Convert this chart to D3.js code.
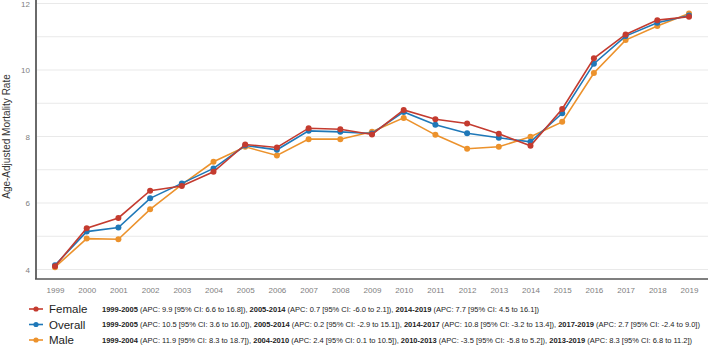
<!DOCTYPE html>
<html>
<head>
<meta charset="utf-8">
<script src="https://cdn.jsdelivr.net/npm/d3@7"></script>
<style>
  html, body { margin: 0; padding: 0; background: #fff; }
  svg { display: block; font-family: "Liberation Sans", Arial, sans-serif; }
</style>
</head>
<body>
<svg id="chart" width="709" height="347"></svg>
<script>
const years = [1999,2000,2001,2002,2003,2004,2005,2006,2007,2008,2009,2010,2011,2012,2013,2014,2015,2016,2017,2018,2019];
const female  = [4.10,5.24,5.55,6.37,6.51,6.94,7.76,7.67,8.25,8.22,8.06,8.80,8.52,8.39,8.08,7.72,8.83,10.35,11.07,11.50,11.60];
const overall = [4.13,5.14,5.26,6.14,6.59,7.04,7.73,7.60,8.17,8.14,8.09,8.74,8.35,8.10,7.96,7.84,8.70,10.19,11.02,11.42,11.64];
const male    = [4.07,4.93,4.91,5.81,6.55,7.24,7.69,7.43,7.92,7.92,8.14,8.56,8.05,7.63,7.69,7.99,8.44,9.91,10.90,11.32,11.70];
const yTicks = [4,6,8,10,12];
const gridTicks = [4,5,6,7,8,9,10,11,12];
const seriesNames = ["Female","Overall","Male"];
const seriesColors = ["#c43b2f","#1f78b8","#ec922c"];
const seriesNotes = [
  [["1999-2005"," (APC: 9.9 [95% CI: 6.6 to 16.8]), "],["2005-2014"," (APC: 0.7 [95% CI: -6.0 to 2.1]), "],["2014-2019"," (APC: 7.7 [95% CI: 4.5 to 16.1])"]],
  [["1999-2005"," (APC: 10.5 [95% CI: 3.6 to 16.0]), "],["2005-2014"," (APC: 0.2 [95% CI: -2.9 to 15.1]), "],["2014-2017"," (APC: 10.8 [95% CI: -3.2 to 13.4]), "],["2017-2019"," (APC: 2.7 [95% CI: -2.4 to 9.0])"]],
  [["1999-2004"," (APC: 11.9 [95% CI: 8.3 to 18.7]), "],["2004-2010"," (APC: 2.4 [95% CI: 0.1 to 10.5]), "],["2010-2013"," (APC: -3.5 [95% CI: -5.8 to 5.2]), "],["2013-2019"," (APC: 8.3 [95% CI: 6.8 to 11.2])"]]
];
const seriesValues = [female, overall, male];

const svg = d3.select("#chart");
const plotLeft = 36, plotRight = 708, plotTop = 0, plotBottom = 279;

const x = d3.scaleLinear().domain([1999, 2019]).range([55, 689]);
const y = d3.scaleLinear().domain([4, 12]).range([269.5, 3.5]);

// gridlines
svg.append("g").selectAll("line").data(gridTicks).join("line")
  .attr("x1", plotLeft).attr("x2", plotRight)
  .attr("y1", d => y(d)).attr("y2", d => y(d))
  .attr("stroke", "#e9e9e9").attr("stroke-width", 1);

// y axis
const yAxis = svg.append("g").attr("transform", `translate(${plotLeft},0)`)
  .call(d3.axisLeft(y).tickValues(yTicks).tickSize(0).tickPadding(6).tickFormat(d3.format("d")));
yAxis.select(".domain").remove();
yAxis.selectAll("text").attr("fill", "#808080").attr("font-size", 8).attr("font-family", "Liberation Sans, Arial, sans-serif");

svg.append("line").attr("x1", plotLeft).attr("x2", plotLeft).attr("y1", plotTop).attr("y2", plotBottom)
  .attr("stroke", "#6a6a6a").attr("stroke-width", 2);

// x axis
const xAxis = svg.append("g").attr("transform", `translate(0,${plotBottom})`)
  .call(d3.axisBottom(x).tickValues(years).tickSize(0).tickPadding(8).tickFormat(d3.format("d")));
xAxis.select(".domain").remove();
xAxis.selectAll("text").attr("fill", "#808080").attr("font-size", 8).attr("font-family", "Liberation Sans, Arial, sans-serif");
svg.append("line").attr("x1", plotLeft - 1).attr("x2", plotRight).attr("y1", plotBottom).attr("y2", plotBottom)
  .attr("stroke", "#555").attr("stroke-width", 1.5);

// y title
svg.append("text")
  .attr("transform", `translate(10,${(y(4)+y(12))/2}) rotate(-90)`)
  .attr("text-anchor", "middle")
  .attr("font-size", 10).attr("fill", "#333")
  .text("Age-Adjusted Mortality Rate");

const line = d3.line().x((d, i) => x(years[i])).y(d => y(d));
const order = [2, 1, 0];
order.forEach(si => {
  const g = svg.append("g");
  g.append("path").datum(seriesValues[si])
    .attr("fill", "none").attr("stroke", seriesColors[si]).attr("stroke-width", 1.6)
    .attr("d", line);
  g.selectAll("circle").data(seriesValues[si]).join("circle")
    .attr("cx", (d, i) => x(years[i])).attr("cy", d => y(d)).attr("r", 3)
    .attr("fill", seriesColors[si]);
});

// legend
const legRows = [309, 324.5, 340];
seriesNames.forEach((name, i) => {
  const ly = legRows[i];
  svg.append("line").attr("x1", 29).attr("x2", 43).attr("y1", ly).attr("y2", ly)
    .attr("stroke", seriesColors[i]).attr("stroke-width", 1.6);
  svg.append("circle").attr("cx", 36).attr("cy", ly).attr("r", 2.6).attr("fill", seriesColors[i]);
  svg.append("text").attr("x", 49).attr("y", ly + 4).attr("font-size", 11.5).attr("fill", "#222").text(name);
  const t = svg.append("text").attr("x", 102).attr("y", ly + 2.7).attr("font-size", 7.5).attr("fill", "#222");
  seriesNotes[i].forEach(([b, rest]) => {
    t.append("tspan").attr("font-weight", "bold").text(b);
    t.append("tspan").text(rest);
  });
});
</script>
</body>
</html>
